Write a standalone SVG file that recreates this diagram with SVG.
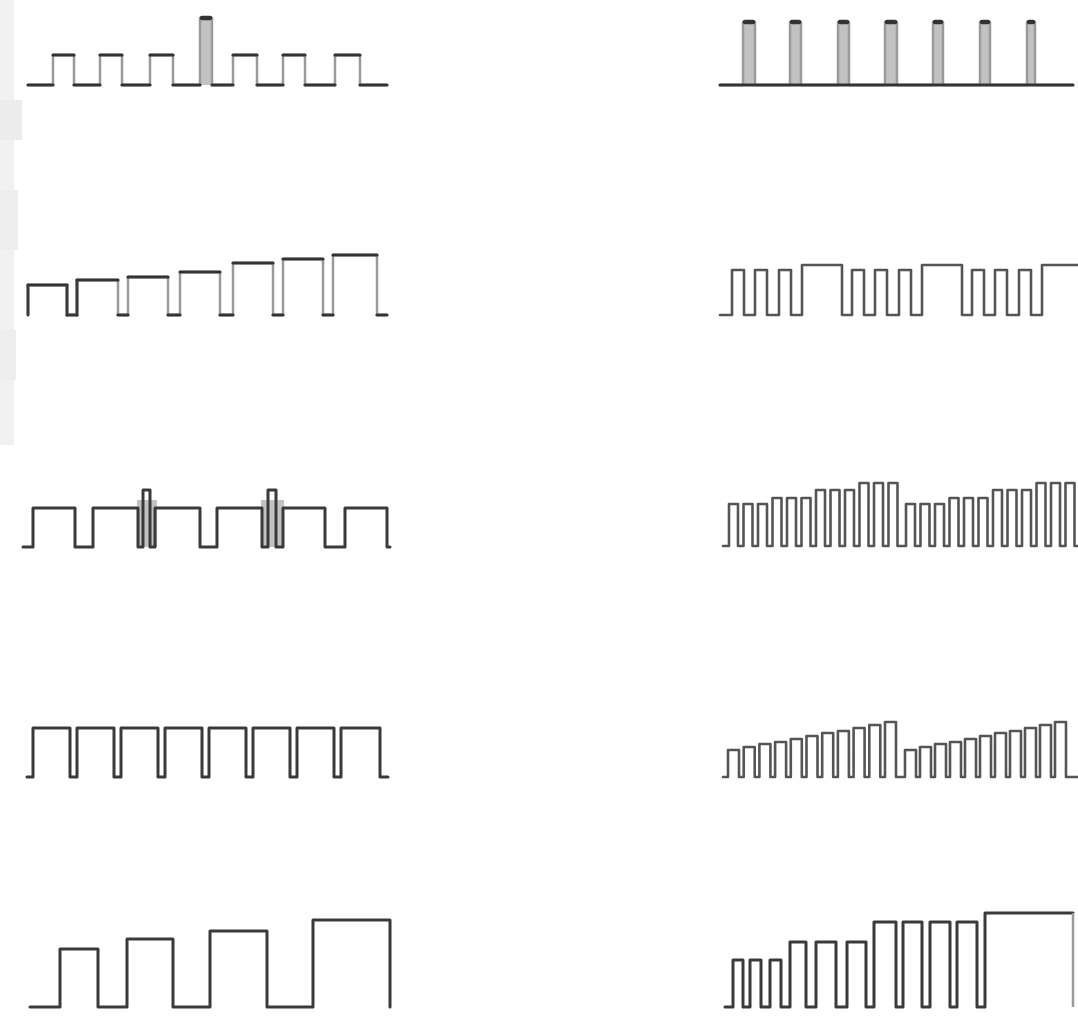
<svg xmlns="http://www.w3.org/2000/svg" width="1078" height="1017" viewBox="0 0 1078 1017">
<style>
.w{fill:none;stroke:#3a3a3a;stroke-width:3;stroke-linejoin:round;stroke-linecap:round}
.v{fill:none;stroke:#9a9a9a;stroke-width:2.5;stroke-linejoin:round}
.h{fill:none;stroke:#333;stroke-width:3.2;stroke-linecap:round}
.m{fill:none;stroke:#555;stroke-width:2.6;stroke-linejoin:round;stroke-linecap:round}
.col{fill:#c2c2c2}
.cap{fill:none;stroke:#333;stroke-width:4.5;stroke-linecap:round}
</style>
<rect width="1078" height="1017" fill="#fff"/>
<g id="margin">
<rect x="0" y="0" width="14" height="445" fill="#f1f1f1"/>
<rect x="0" y="100" width="22" height="40" fill="#ececec"/>
<rect x="0" y="190" width="18" height="60" fill="#ededed"/>
<rect x="0" y="330" width="16" height="50" fill="#eeeeee"/>
</g>
<g id="wave1">
<rect class="col" x="200" y="18" width="12" height="67"/>
<path class="v" d="M28,85 H53 V55 H74 V85 H100 V55 H122 V85 H150 V55 H173 V85 H200 V18 H212 V85 H233 V55 H257 V85 H283 V55 H305 V85 H335 V55 H360 V85 H387"/>
<path class="h" d="M28,85H53 M53,55H74 M74,85H100 M100,55H122 M122,85H150 M150,55H173 M173,85H200 M212,85H233 M233,55H257 M257,85H283 M283,55H305 M305,85H335 M335,55H360 M360,85H387"/>
<path class="cap" d="M202,18H210"/>
</g>
<g id="wave2">
<rect class="col" x="743" y="22" width="12" height="63"/>
<rect class="col" x="790" y="22" width="11" height="63"/>
<rect class="col" x="838" y="22" width="11" height="63"/>
<rect class="col" x="885" y="22" width="12" height="63"/>
<rect class="col" x="933" y="22" width="10" height="63"/>
<rect class="col" x="980" y="22" width="10" height="63"/>
<rect class="col" x="1027" y="22" width="8" height="63" fill="#d0d0d0"/>
<path class="v" d="M720,85 H743 V22 H755 V85 H790 V22 H801 V85 H838 V22 H849 V85 H885 V22 H897 V85 H933 V22 H943 V85 H980 V22 H990 V85 H1027 V22 H1035 V85 H1073"/>
<path class="h" d="M720,85H1073"/>
<path class="cap" d="M745,22H753 M792,22H799 M840,22H847 M887,22H895 M935,22H941 M982,22H988 M1029,22H1033"/>
</g>
<g id="wave3">
<path class="v" d="M28,315 V285 H67 V315 H77 V280 H118 V315 H128 V277 H168 V315 H180 V272 H220 V315 H233 V263 H273 V315 H283 V259 H323 V315 H333 V255 H377 V315 H387"/>
<path class="h" d="M28,285H67 M67,315H77 M77,280H118 M118,315H128 M128,277H168 M168,315H180 M180,272H220 M220,315H233 M233,263H273 M273,315H283 M283,259H323 M323,315H333 M333,255H377 M377,315H387"/>
<path class="w" d="M28,315 V285 M67,285 V315 M77,315 V280"/>
</g>
<g id="wave4">
<path class="m" d="M720,315 H732 V270 H744 V315 H755 V270 H767 V315 H779 V270 H791 V315 H802 V265 H842 V315 H852 V270 H864 V315 H875 V270 H887 V315 H899 V270 H911 V315 H922 V265 H962 V315 H972 V270 H984 V315 H995 V270 H1007 V315 H1019 V270 H1031 V315 H1042 V265 H1078"/>
</g>
<g id="wave5">
<rect class="col" x="137" y="500" width="20" height="47"/>
<rect class="col" x="261" y="500" width="23" height="47"/>
<path class="w" d="M23,547 H33 V508 H75 V547 H93 V508 H138 V547 H143 V490 H150 V547 H155 V508 H200 V547 H217 V508 H262 V547 H268 V490 H276 V547 H283 V508 H325 V547 H345 V508 H387 V547 H390"/>
</g>
<g id="wave6">
<path class="m" d="M723,546 H729 V504 H738 V546 H743.5 V504 H752.5 V546 H758 V504 H767 V546 H772.5 V498 H781.5 V546 H787 V498 H796 V546 H801.5 V498 H810.5 V546 H816 V490 H825 V546 H830.5 V490 H839.5 V546 H845 V490 H854 V546 H859.5 V483 H868.5 V546 H874 V483 H883 V546 H888.5 V483 H897.5 V546 H906 V504 H915 V546 H920.5 V504 H929.5 V546 H935 V504 H944 V546 H949.5 V498 H958.5 V546 H964 V498 H973 V546 H978.5 V498 H987.5 V546 H993 V490 H1002 V546 H1007.5 V490 H1016.5 V546 H1022 V490 H1031 V546 H1036.5 V483 H1045.5 V546 H1051 V483 H1060 V546 H1065.5 V483 H1074.5 V546 H1078"/>
</g>
<g id="wave7">
<path class="w" d="M27,777 H33 V728 H70 V777 H77 V728 H114 V777 H121 V728 H158 V777 H165 V728 H202 V777 H209 V728 H246 V777 H253 V728 H290 V777 H297 V728 H334 V777 H341 V728 H380 V777 H388"/>
</g>
<g id="wave8">
<path class="m" d="M723,777 H728 V750 H739 V777 H743.7 V747 H754.7 V777 H759.4 V744 H770.4 V777 H775.1 V742 H786.1 V777 H790.8 V739 H801.8 V777 H806.5 V736 H817.5 V777 H822.2 V733 H833.2 V777 H837.9 V731 H848.9 V777 H853.6 V728 H864.6 V777 H869.3 V725 H880.3 V777 H885 V722 H896 V777 H905 V750 H916 V777 H920 V747 H931 V777 H935 V744 H946 V777 H950 V742 H961 V777 H965 V739 H976 V777 H980 V736 H991 V777 H995 V733 H1006 V777 H1010 V731 H1021 V777 H1025 V728 H1036 V777 H1040 V725 H1051 V777 H1055 V722 H1066 V777 H1078"/>
</g>
<g id="wave9">
<path class="w" d="M30,1007 H60 V949 H98 V1007 H127 V939 H173 V1007 H210 V931 H267 V1007 H313 V920 H390 V1007"/>
</g>
<g id="wave10">
<path class="w" d="M725,1007 H733 V960 H743 V1007 H750 V960 H761 V1007 H770 V960 H781 V1007 H790 V942 H806 V1007 H816 V942 H836 V1007 H847 V942 H866 V1007 H874 V922 H896 V1007 H903 V922 H922 V1007 H930 V922 H950 V1007 H957 V922 H977 V1007 H985 V913 H1073"/>
<path class="v" d="M1073,913 V1007"/>
</g>
</svg>
